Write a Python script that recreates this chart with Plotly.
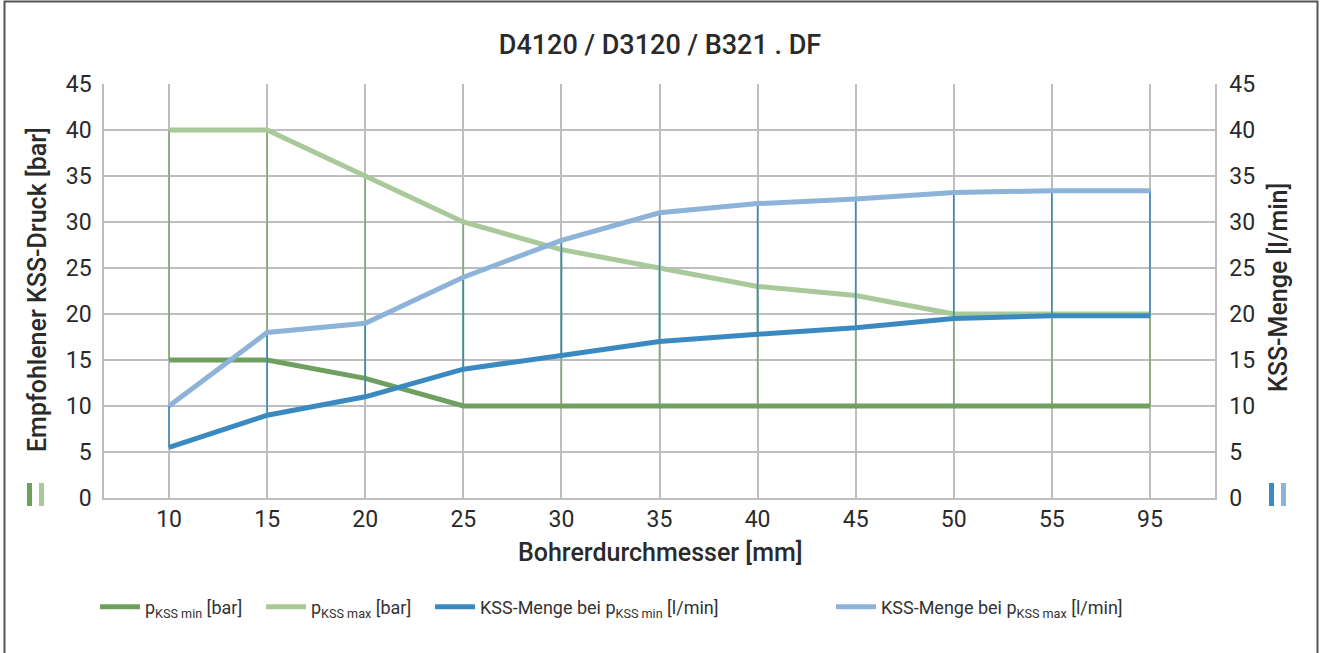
import plotly.graph_objects as go

# Drill diameters (category axis)
diameters = ["10", "15", "20", "25", "30", "35", "40", "45", "50", "55", "95"]

# Recommended coolant pressure [bar]
p_min = [15, 15, 13, 10, 10, 10, 10, 10, 10, 10, 10]
p_max = [40, 40, 35, 30, 27, 25, 23, 22, 20, 20, 20]

# Coolant flow [l/min] at p_min and p_max
q_min = [5.5, 9, 11, 14, 15.5, 17, 17.8, 18.5, 19.5, 19.8, 19.8]
q_max = [10, 18, 19, 24, 28, 31, 32, 32.5, 33.2, 33.4, 33.4]

y_ticks = [0, 5, 10, 15, 20, 25, 30, 35, 40, 45]

C_PMIN = "#6fa05e"
C_PMAX = "#a9c99a"
C_QMIN = "#3a8ac1"
C_QMAX = "#8db3d9"
C_HL_GREEN = "#7eae6c"
C_HL_BLUE = "#3a8ac1"
GRID = "#bdbdc2"
TXT = "#2a2a2a"
FONT = "Roboto"

W, H = 1320, 653
ML, MR, MT, MB = 104, 105, 84, 155
PW, PH = W - ML - MR, H - MT - MB


def px(x):
    return (x - ML) / PW


def py(y):
    return (H - MB - y) / PH


def high_low(cats, hi, lo):
    xs, ys = [], []
    for c, a, b in zip(cats, hi, lo):
        xs += [c, c, None]
        ys += [a, b, None]
    return xs, ys


fig = go.Figure()

# high-low connectors for each axis group
gx, gy = high_low(diameters, p_max, p_min)
fig.add_trace(go.Scatter(x=gx, y=gy, mode="lines", line=dict(color=C_HL_GREEN, width=1.6),
                         showlegend=False, hoverinfo="skip", yaxis="y"))

fig.add_trace(go.Scatter(x=diameters, y=p_min, mode="lines", name="p<sub>KSS min</sub> [bar]",
                         line=dict(color=C_PMIN, width=5), yaxis="y", legend="legend"))
fig.add_trace(go.Scatter(x=diameters, y=p_max, mode="lines", name="p<sub>KSS max</sub> [bar]",
                         line=dict(color=C_PMAX, width=5), yaxis="y", legend="legend2"))

bx, by = high_low(diameters, q_max, q_min)
fig.add_trace(go.Scatter(x=bx, y=by, mode="lines", line=dict(color=C_HL_BLUE, width=1.6),
                         showlegend=False, hoverinfo="skip", yaxis="y2"))

fig.add_trace(go.Scatter(x=diameters, y=q_min, mode="lines",
                         name="KSS-Menge bei p<sub>KSS min</sub> [l/min]",
                         line=dict(color=C_QMIN, width=5), yaxis="y2", legend="legend3"))
fig.add_trace(go.Scatter(x=diameters, y=q_max, mode="lines",
                         name="KSS-Menge bei p<sub>KSS max</sub> [l/min]",
                         line=dict(color=C_QMAX, width=5), yaxis="y2", legend="legend4"))

span = (65 / 98)
axis_font = dict(family=FONT, size=23, color=TXT)

leg_common = dict(orientation="h", yanchor="middle", y=py(607), xanchor="left",
                  font=dict(family=FONT, size=18, color="#333333"),
                  bgcolor="rgba(0,0,0,0)", itemwidth=40)

fig.update_layout(
    width=W, height=H,
    margin=dict(l=ML, r=MR, t=MT, b=MB),
    paper_bgcolor="white", plot_bgcolor="white",
    title=dict(text="D4120 / D3120 / B321 . DF", x=0.5, xanchor="center",
               y=1 - 45 / H, yanchor="middle",
               font=dict(family=FONT, size=27, color=TXT, weight=500)),
    xaxis=dict(type="category", categoryorder="array", categoryarray=diameters,
               range=[-span, len(diameters) - 1 + span],
               showgrid=True, gridcolor=GRID, gridwidth=1.5,
               showline=True, linecolor=GRID, linewidth=1.5,
               ticks="", tickfont=axis_font, zeroline=False),
    yaxis=dict(range=[0, 45], tickvals=y_ticks, showgrid=True, gridcolor=GRID, gridwidth=1.5,
               showline=True, linecolor=GRID, linewidth=1.5, zeroline=False,
               ticks="", tickfont=axis_font, ticklabelstandoff=6),
    yaxis2=dict(range=[0, 45], tickvals=y_ticks, overlaying="y", side="right",
                showgrid=False, showline=True, linecolor=GRID, linewidth=1.5,
                zeroline=False, ticks="", tickfont=axis_font, ticklabelstandoff=8),
    legend=dict(leg_common, x=px(95)),
    legend2=dict(leg_common, x=px(261)),
    legend3=dict(leg_common, x=px(430)),
    legend4=dict(leg_common, x=px(831)),
    showlegend=True,
)

# axis titles
title_font = dict(family=FONT, size=25, color=TXT, weight=500)
fig.add_annotation(text="Bohrerdurchmesser [mm]", x=px(660), y=py(552), xref="paper", yref="paper",
                   showarrow=False, xanchor="center", yanchor="middle", font=title_font)
fig.add_annotation(text="Empfohlener KSS-Druck [bar]", x=px(37), y=py(290), xref="paper", yref="paper",
                   showarrow=False, textangle=-90, xanchor="center", yanchor="middle",
                   font=title_font)
fig.add_annotation(text="KSS-Menge [l/min]", x=px(1278), y=py(288), xref="paper", yref="paper",
                   showarrow=False, textangle=-90, xanchor="center", yanchor="middle",
                   font=title_font)

# axis-group colour keys next to the zero ticks
keys = [(27, 32, C_PMIN), (39, 44, C_PMAX), (1269, 1274, C_QMIN), (1281, 1286, C_QMAX)]
for x0, x1, col in keys:
    fig.add_shape(type="rect", xref="paper", yref="paper",
                  x0=px(x0), x1=px(x1), y0=py(506), y1=py(483),
                  fillcolor=col, line=dict(width=0))

# outer frame
fig.add_shape(type="rect", xref="paper", yref="paper",
              x0=px(4.5), x1=px(1317.5), y0=py(660), y1=py(1.5),
              line=dict(color="#555555", width=2), fillcolor="rgba(0,0,0,0)", layer="below")

fig.write_html("out.html")
